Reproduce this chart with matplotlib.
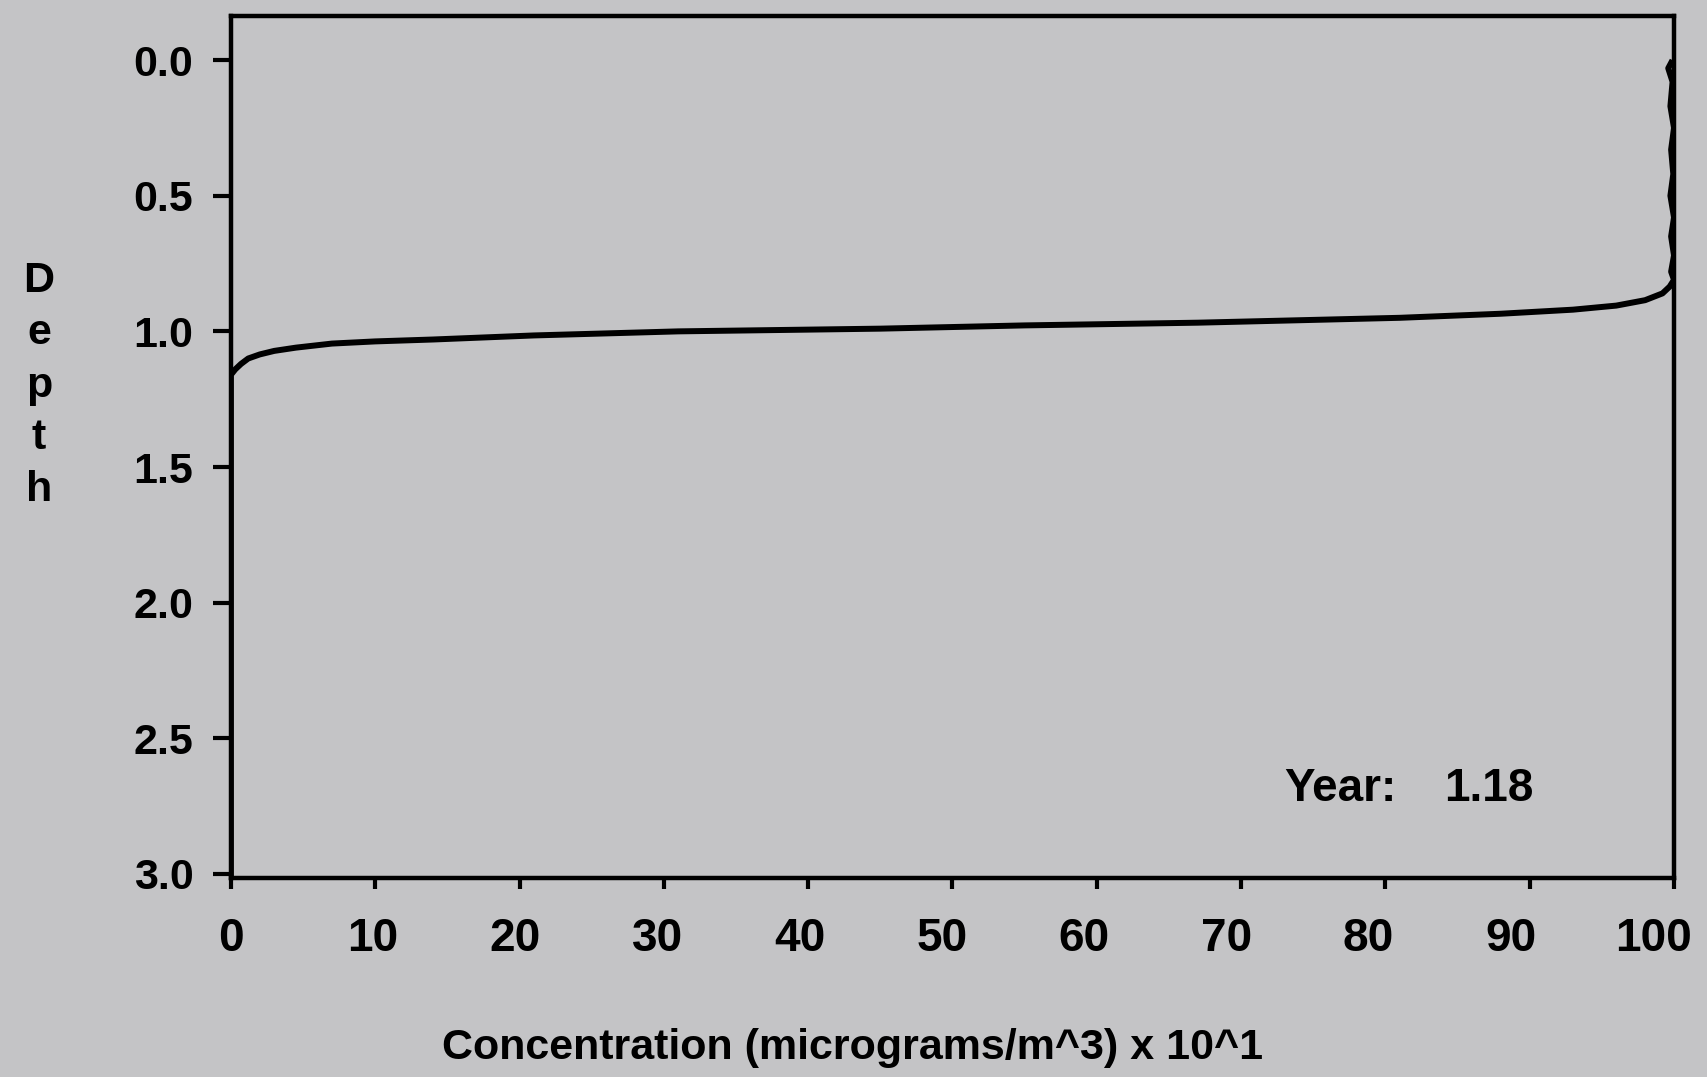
import numpy as np
import matplotlib.pyplot as plt
from matplotlib.transforms import ScaledTranslation

plt.rcParams['font.family'] = ['Liberation Sans', 'DejaVu Sans']
plt.rcParams['font.weight'] = 'bold'

# concentration (x 10^1) vs depth profile
conc = [0, 0, 0.3, 0.7, 1.2, 2, 3, 4.5, 7, 10, 14, 21, 31, 45, 55, 67, 81, 88,
        93, 96, 98, 99.2, 99.7, 100,
        99.8, 100, 99.8, 100, 99.75, 99.95, 99.8, 100, 99.75, 99.9, 99.6, 99.8]
depth = [3.0, 1.16, 1.14, 1.12, 1.10, 1.085, 1.072, 1.06, 1.045, 1.037, 1.03,
         1.015, 1.0, 0.99, 0.978, 0.968, 0.95, 0.935, 0.92, 0.905, 0.885, 0.86,
         0.835, 0.81,
         0.78, 0.72, 0.65, 0.58, 0.5, 0.42, 0.33, 0.25, 0.17, 0.08, 0.03, 0.01]

x_ticks = [0, 10, 20, 30, 40, 50, 60, 70, 80, 90, 100]
y_ticks = [0.0, 0.5, 1.0, 1.5, 2.0, 2.5, 3.0]
year = 1.18

bg = '#c4c4c6'
fig = plt.figure(figsize=(17.08, 10.77), dpi=100, facecolor=bg)
ax = fig.add_axes([0.1352, 0.1848, 0.9801 - 0.1352, 0.985 - 0.1848])
ax.set_facecolor(bg)

ax.plot(conc, depth, color='black', lw=4.3, solid_joinstyle='round')

ax.set_xlim(0, 100)
ax.set_ylim(3.015, -0.162)
ax.set_xticks(x_ticks)
ax.set_yticks(y_ticks)
ax.set_yticklabels([f'{v:.1f}' for v in y_ticks])
for s in ax.spines.values():
    s.set_linewidth(3.2)
ax.tick_params(direction='out', width=3)
ax.tick_params(axis='y', length=13, labelsize=31, pad=14)
ax.tick_params(axis='x', length=8, labelsize=33, pad=20)

# labels on the scan sit a little left of their ticks towards the right end
for lab, v in zip(ax.get_xticklabels(), x_ticks):
    lab.set_transform(lab.get_transform() +
                      ScaledTranslation(-0.21 * v / 100, 0, fig.dpi_scale_trans))

ax.text(73, 2.73, 'Year:', fontsize=33, va='baseline')
ax.text(84.1, 2.73, f'{year:.2f}', fontsize=33, va='baseline')

fig.text(0.499, 0.027, 'Concentration (micrograms/m^3) x 10^1', fontsize=31,
         ha='center', va='center')
fig.text(0.0228, 0.642, 'D\ne\np\nt\nh', fontsize=31, ha='center', va='center',
         multialignment='center', linespacing=1.4)

fig.savefig('out.png', dpi=100, facecolor=bg)
